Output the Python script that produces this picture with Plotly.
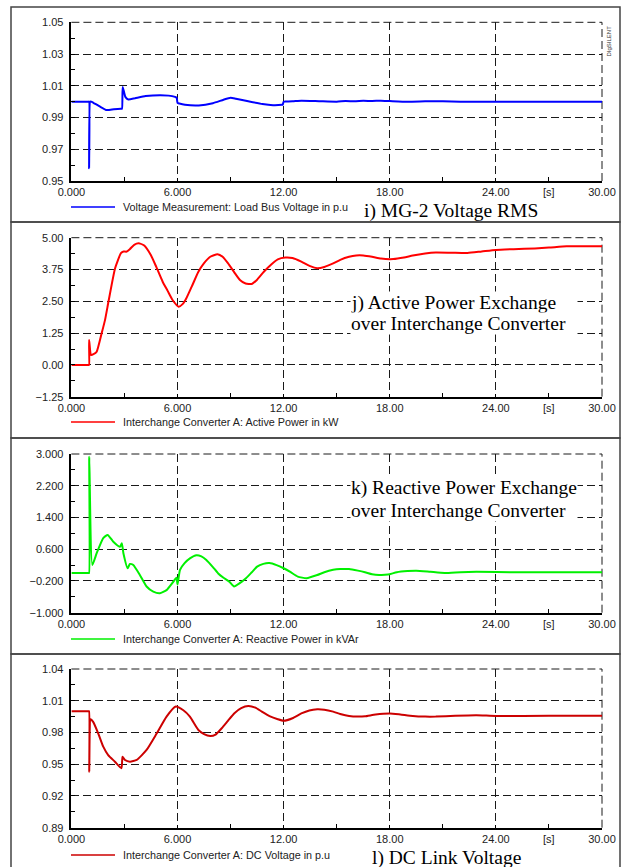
import plotly.graph_objects as go

W, H = 621, 867

# ---------------- data ----------------
t_vload = [0, 0.5, 0.97, 1.0, 1.0, 1.06, 1.12, 1.24, 1.6, 2.0, 2.4, 2.8, 2.86, 2.9, 3.05, 3.22, 3.6, 4.2, 5.0, 5.5, 5.86, 5.95, 6.0, 6.1, 6.42, 7.2, 8.0, 8.6, 9.0, 9.3, 10.0, 10.8, 11.4, 11.9, 11.95, 12.0, 12.1, 12.5, 13.0, 14.0, 15.0, 15.5, 16.0, 16.5, 17.0, 17.5, 18.0, 19.0, 20.0, 21.0, 22.0, 24.0, 27.0, 30.0]
v_load = [1.000, 1.000, 1.000, 1.000, 0.958, 1.000, 1.000, 0.9993, 0.997, 0.9947, 0.9952, 0.9955, 0.9955, 1.0093, 1.003, 1.0014, 1.0022, 1.0035, 1.0041, 1.0038, 1.0030, 1.0026, 0.9992, 0.9988, 0.9980, 0.9976, 0.9990, 1.0012, 1.0024, 1.0018, 1.0002, 0.9985, 0.9978, 0.9980, 0.9981, 1.0000, 1.0001, 1.0002, 1.0006, 1.0003, 1.0000, 1.0004, 1.0002, 1.0005, 1.0004, 1.0006, 1.0004, 1.0000, 1.0002, 1.0003, 1.0000, 1.0000, 1.0000, 1.0000]

t_p = [0, 0.5, 0.97, 1.0, 1.0, 1.11, 1.25, 1.43, 1.71, 1.9, 2.1, 2.47, 2.8, 2.95, 3.1, 3.3, 3.55, 3.8, 4.1, 4.49, 4.8, 5.16, 5.45, 5.72, 6.06, 6.3, 6.5, 6.85, 7.18, 7.5, 7.85, 8.26, 8.55, 8.86, 9.2, 9.53, 9.85, 10.2, 10.5, 10.88, 11.3, 11.67, 12.1, 12.5, 13.0, 13.5, 13.9, 14.3, 14.8, 15.2, 15.7, 16.1, 16.5, 17.0, 17.5, 18.2, 18.8, 19.3, 20.0, 20.6, 21.5, 22.4, 23.2, 24.0, 25.0, 26.2, 27.0, 28.0, 30.0]
p_active = [0.0, 0.0, 0.0, 0.0, 0.98, 0.39, 0.42, 0.52, 1.24, 1.76, 2.50, 3.80, 4.39, 4.46, 4.45, 4.55, 4.72, 4.78, 4.70, 4.32, 3.85, 3.27, 2.90, 2.55, 2.29, 2.40, 2.62, 3.15, 3.66, 4.00, 4.25, 4.35, 4.25, 3.99, 3.65, 3.34, 3.20, 3.18, 3.35, 3.66, 3.95, 4.15, 4.22, 4.20, 4.06, 3.88, 3.80, 3.85, 3.99, 4.13, 4.25, 4.30, 4.30, 4.25, 4.18, 4.16, 4.22, 4.30, 4.38, 4.42, 4.41, 4.40, 4.46, 4.52, 4.55, 4.58, 4.61, 4.66, 4.66]

t_q = [0, 0.5, 0.97, 1.0, 1.01, 1.18, 1.43, 1.8, 2.05, 2.37, 2.75, 2.85, 2.94, 3.18, 3.31, 3.5, 3.87, 4.25, 4.63, 5.0, 5.38, 5.76, 5.94, 6.0, 6.14, 6.4, 6.7, 7.07, 7.35, 7.63, 8.0, 8.3, 8.6, 8.93, 9.2, 9.5, 9.87, 10.2, 10.5, 10.85, 11.2, 11.6, 12.0, 12.4, 12.8, 13.3, 13.9, 14.3, 14.8, 15.2, 15.7, 16.2, 16.6, 17.0, 17.4, 17.9, 18.4, 19.0, 19.5, 20.3, 21.1, 22.0, 22.9, 25.1, 27.5, 30.0]
q_reactive = [0.0, 0.0, 0.0, 0.0, 2.93, 0.20, 0.50, 0.88, 0.96, 0.79, 0.66, 0.75, 0.50, 0.12, 0.23, 0.20, -0.05, -0.34, -0.47, -0.51, -0.43, -0.22, -0.12, -0.29, 0.08, 0.25, 0.37, 0.45, 0.42, 0.33, 0.15, -0.01, -0.12, -0.22, -0.34, -0.26, -0.13, 0.02, 0.16, 0.23, 0.25, 0.20, 0.12, 0.02, -0.09, -0.13, -0.05, 0.02, 0.08, 0.10, 0.10, 0.06, 0.02, -0.03, -0.05, -0.04, 0.02, 0.05, 0.06, 0.03, 0.00, 0.02, 0.03, 0.02, 0.02, 0.02]

t_dc = [0, 0.5, 0.97, 1.0, 1.01, 1.09, 1.23, 1.52, 1.8, 2.08, 2.46, 2.83, 2.89, 3.03, 3.31, 3.69, 4.25, 4.82, 5.38, 5.9, 6.33, 6.7, 7.18, 7.5, 7.85, 8.15, 8.5, 8.85, 9.2, 9.6, 10.0, 10.4, 10.77, 11.2, 11.67, 12.0, 12.5, 13.0, 13.45, 13.9, 14.3, 14.8, 15.2, 15.7, 16.2, 16.6, 17.2, 18.0, 18.6, 19.3, 20.0, 20.6, 21.7, 22.9, 24.0, 27.0, 30.0]
v_dc = [1.000, 1.000, 1.000, 1.000, 0.943, 0.9925, 0.990, 0.979, 0.9666, 0.9587, 0.9524, 0.9462, 0.957, 0.954, 0.9524, 0.954, 0.9635, 0.979, 0.995, 1.0045, 1.001, 0.995, 0.9824, 0.9785, 0.9767, 0.978, 0.984, 0.991, 0.998, 1.003, 1.005, 1.0035, 0.9997, 0.9955, 0.9925, 0.9911, 0.9935, 0.998, 1.0008, 1.0019, 1.0015, 0.9997, 0.9975, 0.9956, 0.995, 0.9953, 0.997, 0.998, 0.997, 0.9956, 0.995, 0.995, 0.9958, 0.9963, 0.9956, 0.9958, 0.9959]

x_tickvals = [0, 6, 12, 18, 24, 30]
x_ticktext = ["0.000", "6.000", "12.00", "18.00", "24.00", "30.00"]
x_minor = [3, 9, 15, 21, 27]

panels = [
    dict(t=t_vload, y=v_load, color="#0000ff", yr=[0.95, 1.05], dt=0.02, fmt=".2f",
         name="Voltage Measurement: Load Bus Voltage in p.u"),
    dict(t=t_p, y=p_active, color="#ff0000", yr=[-1.25, 5.0], dt=1.25, fmt=".2f",
         name="Interchange Converter A: Active Power in kW"),
    dict(t=t_q, y=q_reactive, color="#00f000", yr=[-1.0, 3.0], dt=0.8, fmt=".3f",
         name="Interchange Converter A: Reactive Power in kVAr"),
    dict(t=t_dc, y=v_dc, color="#cc0000", yr=[0.89, 1.04], dt=0.03, fmt=".2f",
         name="Interchange Converter A: DC Voltage in p.u"),
]

# ---------------- layout geometry (pixels) ----------------
PX_L, PX_R = 71.4, 602.0
plot_tops = [22.3, 237.7, 454.0, 669.0]
plot_bots = [181.0, 396.7, 612.7, 827.7]
legend_y = [207, 422, 639, 855]
box_y = [(7, 222), (222, 438), (438, 654), (654, 875)]

def px(x):
    return x / W

def py(y):
    return 1 - y / H

TICKFONT = dict(family="Liberation Sans, Arial", size=11, color="#222222")
GRID = "#1a1a1a"
DASH = "8px,4px"

fig = go.Figure()
layout = dict(width=W, height=H, margin=dict(l=0, r=0, t=0, b=0, autoexpand=False),
              paper_bgcolor="white", plot_bgcolor="white", showlegend=False)
shapes, annotations = [], []

for i, p in enumerate(panels):
    k = "" if i == 0 else str(i + 1)
    fig.add_trace(go.Scatter(x=p["t"], y=p["y"], mode="lines", name=p["name"],
                             line=dict(color=p["color"], width=2, shape="spline", smoothing=0.5),
                             xaxis="x" + k, yaxis="y" + k, hoverinfo="skip"))
    layout["xaxis" + k] = dict(
        domain=[px(PX_L), px(PX_R)], anchor="y" + k, range=[0, 30], automargin=False,
        tickmode="array", tickvals=x_tickvals, ticktext=x_ticktext,
        ticks="inside", ticklen=3, tickcolor="black", tickfont=TICKFONT,
        showline=True, linecolor="black", linewidth=1.5,
        showgrid=True, gridcolor=GRID, griddash=DASH, gridwidth=1,
        zeroline=False, fixedrange=True,
        minor=dict(tickmode="array", tickvals=x_minor, ticks="inside", ticklen=4,
                   tickcolor="black", showgrid=False),
    )
    layout["yaxis" + k] = dict(
        domain=[py(plot_bots[i]), py(plot_tops[i])], anchor="x" + k, automargin=False,
        range=p["yr"], tickmode="linear", tick0=p["yr"][0], dtick=p["dt"],
        tickformat=p["fmt"], ticks="inside", ticklen=4, tickcolor="black",
        tickfont=TICKFONT, ticklabelstandoff=4,
        showline=True, linecolor="black", linewidth=1.5,
        showgrid=True, gridcolor=GRID, griddash=DASH, gridwidth=1,
        zeroline=False, fixedrange=True,
        minor=dict(tick0=p["yr"][0], dtick=p["dt"] / 2, ticks="inside", ticklen=4,
                   tickcolor="black", showgrid=False),
    )
    # dashed top and right frame of the plot area (grid at the range ends)
    shapes.append(dict(type="line", xref="x" + k + " domain", yref="y" + k + " domain",
                       x0=0, x1=1, y0=1, y1=1, layer="below",
                       line=dict(color=GRID, width=1, dash=DASH)))
    shapes.append(dict(type="line", xref="x" + k + " domain", yref="y" + k + " domain",
                       x0=1, x1=1, y0=0, y1=1, layer="below",
                       line=dict(color=GRID, width=1, dash=DASH)))
    # panel frame
    shapes.append(dict(type="rect", xref="paper", yref="paper",
                       x0=px(11), x1=px(620), y0=py(box_y[i][1]), y1=py(box_y[i][0]),
                       line=dict(color="#444444", width=1.5), layer="below"))
    # "[s]" unit label at t=27
    annotations.append(dict(xref="x" + k, yref="paper", x=27, y=py(plot_bots[i] + 11),
                            text="[s]", showarrow=False, font=TICKFONT,
                            xanchor="center", yanchor="middle"))
    # legend sample + label
    shapes.append(dict(type="line", xref="paper", yref="paper",
                       x0=px(71), x1=px(115), y0=py(legend_y[i]), y1=py(legend_y[i]),
                       line=dict(color=p["color"], width=1.5)))
    annotations.append(dict(xref="paper", yref="paper", x=px(121), y=py(legend_y[i]),
                            text=p["name"], showarrow=False, xanchor="left", yanchor="middle",
                            font=dict(family="Liberation Sans, Arial", size=10.8, color="#222222")))

SERIF = dict(family="Liberation Serif, Times New Roman", size=19.5, color="black")
annotations.append(dict(xref="paper", yref="paper", x=px(362), y=py(211.5),
                        text="i) MG-2 Voltage RMS", showarrow=False,
                        xanchor="left", yanchor="middle", font=SERIF))
annotations.append(dict(xref="paper", yref="paper", x=px(370), y=py(858),
                        text="l) DC Link Voltage", showarrow=False,
                        xanchor="left", yanchor="middle", font=SERIF))
for (l1, l2, yc1, yc2) in [("j) Active Power Exchange", "over Interchange Converter", 302.7, 324.0),
                           ("k) Reactive Power Exchange", "over Interchange Converter", 488.3, 510.5)]:
    for txt, yc in [(l1, yc1), (l2, yc2)]:
        annotations.append(dict(xref="paper", yref="paper", x=px(350), y=py(yc),
                                text=txt, showarrow=False, xanchor="left", yanchor="middle",
                                align="left", width=226, bgcolor="white", borderpad=0,
                                font=SERIF))

annotations.append(dict(xref="paper", yref="paper", x=px(614), y=py(24),
                        text="DIgSILENT", showarrow=False, textangle=-90,
                        font=dict(family="Liberation Sans, Arial", size=6, color="#333333")))

layout["shapes"] = shapes
layout["annotations"] = annotations
fig.update_layout(**layout)

fig.write_html("out.html", config={"displayModeBar": False},
               post_script="document.body.style.margin='0';")
